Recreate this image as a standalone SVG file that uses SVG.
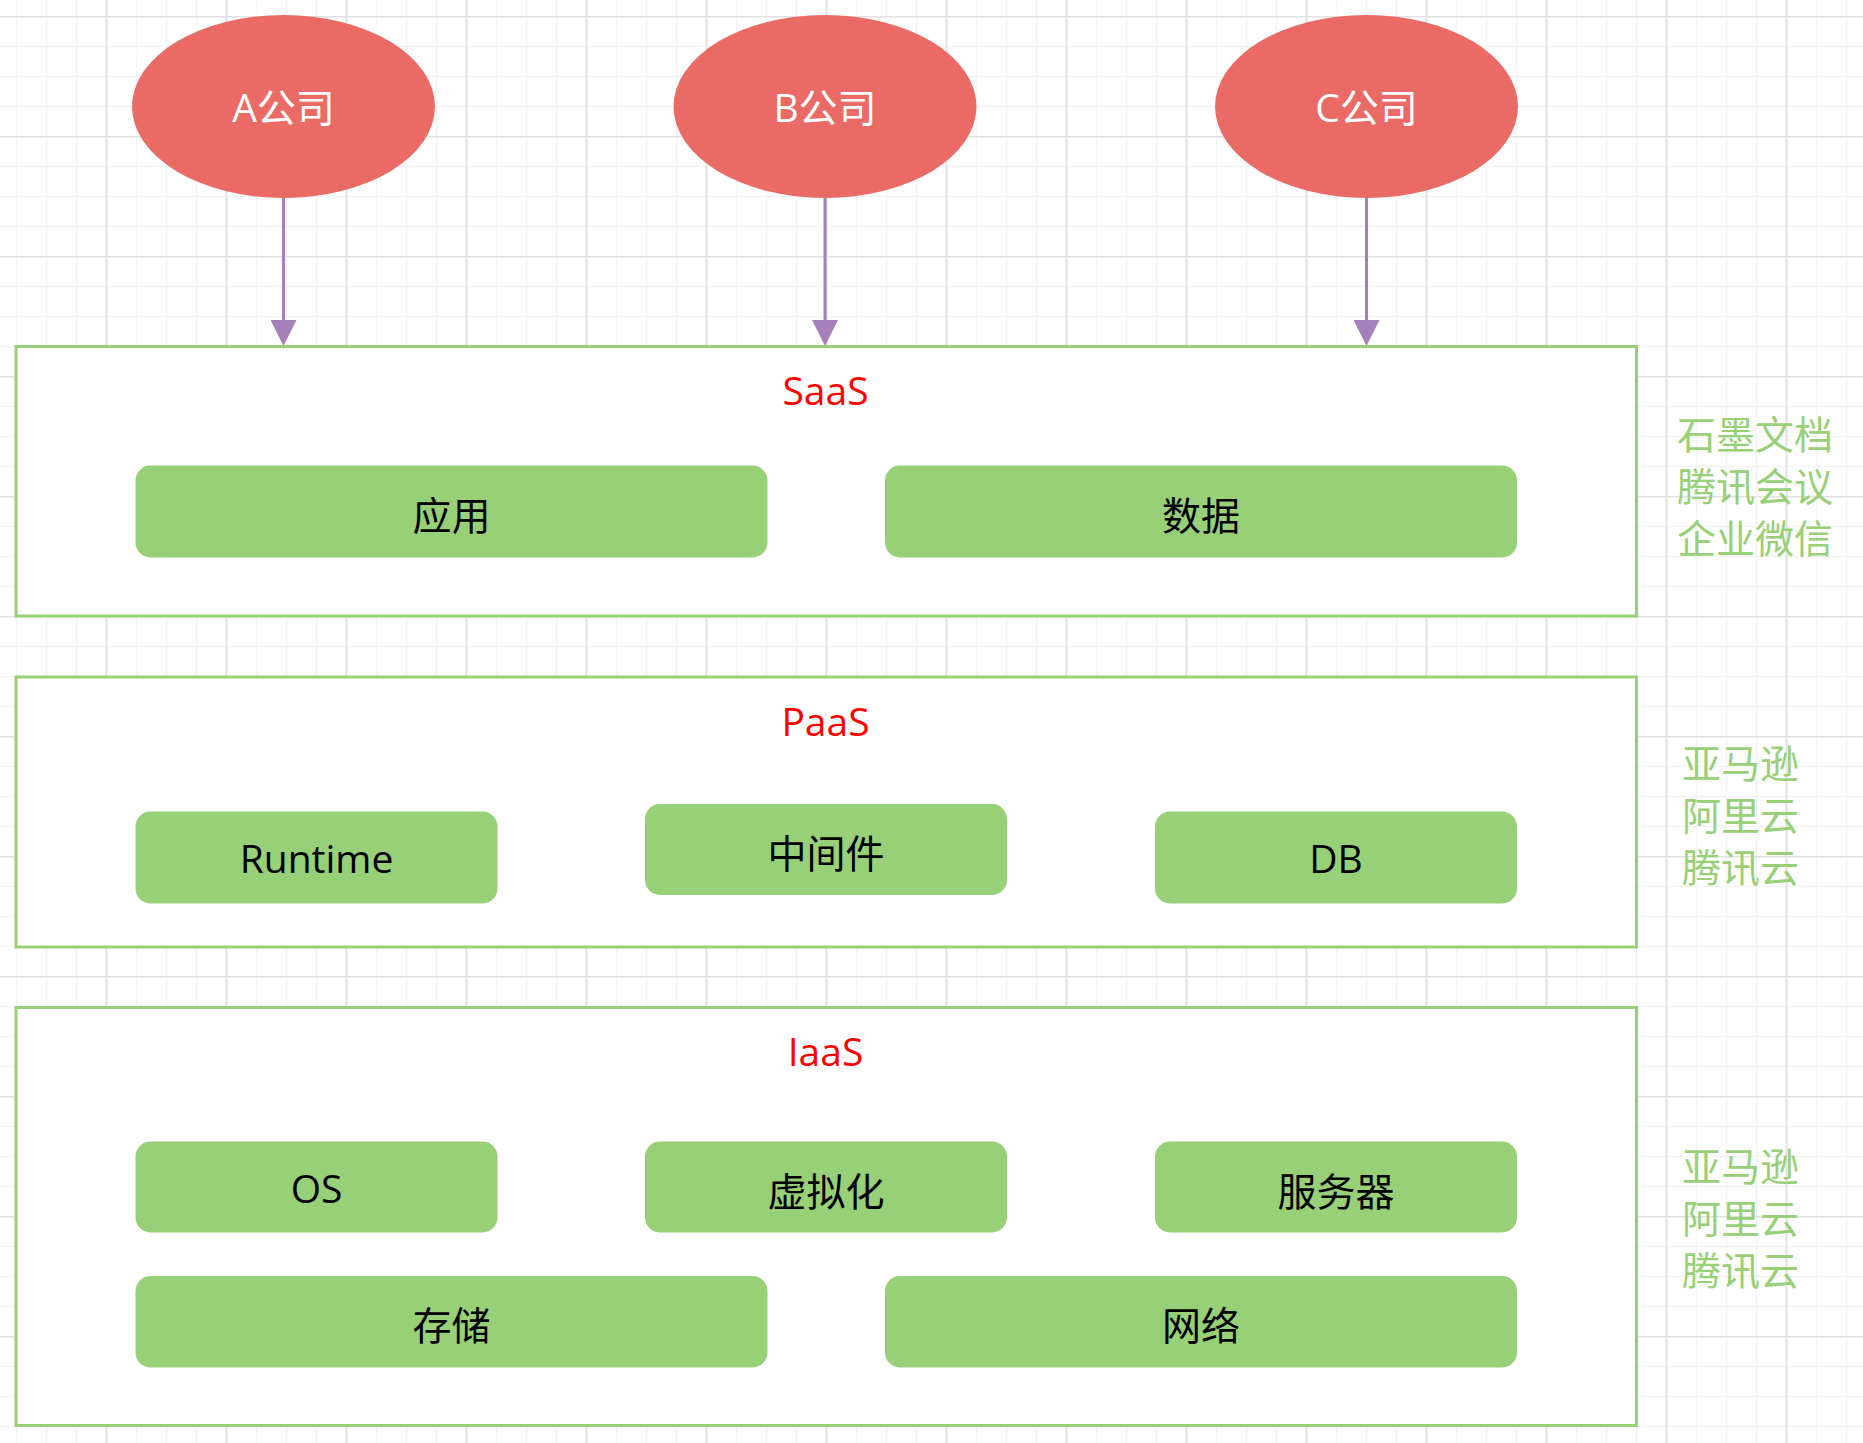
<svg xmlns="http://www.w3.org/2000/svg" width="1863" height="1443" viewBox="0 0 1863 1443">
<defs>
<pattern id="grid" x="16" y="16" width="120" height="120" patternUnits="userSpaceOnUse">
<path d="M0.5,0 V120 M30.5,0 V120 M60.5,0 V120 M0,30.5 H120 M0,60.5 H120 M0,90.5 H120" stroke="#f3f3f3" stroke-width="1.5" fill="none"/>
<path d="M90.5,0 V120 M0,0.5 H120" stroke="#e2e2e2" stroke-width="2" fill="none"/>
</pattern>
<marker id="arrow" markerUnits="userSpaceOnUse" markerWidth="26" markerHeight="26" viewBox="0 0 26 26" refX="0" refY="13" orient="auto">
<path d="M0,0 L26,13 L0,26 Z" fill="#A680B8"/>
</marker>
<style>
text{font-family:"Open Sans","Noto Sans CJK SC",sans-serif;font-size:39px}
.company ellipse{fill:#EA6B66}
.company text{fill:#ffffff;text-anchor:middle}
.layer rect.frame{fill:#ffffff;stroke:#97D077;stroke-width:3}
.layer text.title{fill:#FF0000;text-anchor:middle}
.item rect{fill:#97D077}
.item text{fill:#000000;text-anchor:middle}
.side text{fill:#97D077}
.conn line{stroke:#A680B8;stroke-width:3}
</style>
</defs>
<rect x="0" y="0" width="1863" height="1443" fill="#ffffff"/>
<rect x="0" y="0" width="1863" height="1443" fill="url(#grid)"/>

<g id="layer-saas" class="layer">
<rect class="frame" x="16" y="346.5" width="1620.5" height="269.5"/>
<text class="title" x="825.5" y="405">SaaS</text>
</g>
<g id="layer-paas" class="layer">
<rect class="frame" x="16" y="677" width="1620.5" height="270"/>
<text class="title" x="825.5" y="735.5">PaaS</text>
</g>
<g id="layer-iaas" class="layer">
<rect class="frame" x="16" y="1007.5" width="1620.5" height="418"/>
<text class="title" x="825.5" y="1066">IaaS</text>
</g>

<g id="item-app" class="item"><rect x="135.5" y="465.5" width="632" height="92" rx="15"/><text x="451.5" y="529.5">应用</text></g>
<g id="item-data" class="item"><rect x="885" y="465.5" width="632" height="92" rx="15"/><text x="1201" y="529.5">数据</text></g>

<g id="item-runtime" class="item"><rect x="135.5" y="811.5" width="362" height="92" rx="15"/><text x="316.5" y="873">Runtime</text></g>
<g id="item-middleware" class="item"><rect x="645" y="804" width="362" height="91" rx="15"/><text x="826" y="867.5">中间件</text></g>
<g id="item-db" class="item"><rect x="1155" y="811.5" width="362" height="92" rx="15"/><text x="1336" y="873">DB</text></g>

<g id="item-os" class="item"><rect x="135.5" y="1141.5" width="362" height="91" rx="15"/><text x="316.5" y="1203">OS</text></g>
<g id="item-virt" class="item"><rect x="645" y="1141.5" width="362" height="91" rx="15"/><text x="826" y="1205.5">虚拟化</text></g>
<g id="item-server" class="item"><rect x="1155" y="1141.5" width="362" height="91" rx="15"/><text x="1336" y="1205.5">服务器</text></g>
<g id="item-storage" class="item"><rect x="135.5" y="1276" width="632" height="91.5" rx="15"/><text x="451.5" y="1340">存储</text></g>
<g id="item-network" class="item"><rect x="885" y="1276" width="632" height="91.5" rx="15"/><text x="1201" y="1340">网络</text></g>

<g id="side-saas" class="side">
<text x="1677" y="449">石墨文档</text>
<text x="1677" y="501">腾讯会议</text>
<text x="1677" y="553">企业微信</text>
</g>
<g id="side-paas" class="side">
<text x="1682" y="778">亚马逊</text>
<text x="1682" y="830">阿里云</text>
<text x="1682" y="882">腾讯云</text>
</g>
<g id="side-iaas" class="side">
<text x="1682" y="1181">亚马逊</text>
<text x="1682" y="1233">阿里云</text>
<text x="1682" y="1285">腾讯云</text>
</g>

<g id="connectors" class="conn">
<line x1="283.5" y1="198" x2="283.5" y2="320" marker-end="url(#arrow)"/>
<line x1="825" y1="198" x2="825" y2="320" marker-end="url(#arrow)"/>
<line x1="1366.5" y1="198" x2="1366.5" y2="320" marker-end="url(#arrow)"/>
</g>

<g id="company-a" class="company"><ellipse cx="283.5" cy="106.5" rx="151.5" ry="91.5"/><text x="283.5" y="122">A公司</text></g>
<g id="company-b" class="company"><ellipse cx="825" cy="106.5" rx="151.5" ry="91.5"/><text x="825" y="122">B公司</text></g>
<g id="company-c" class="company"><ellipse cx="1366.5" cy="106.5" rx="151.5" ry="91.5"/><text x="1366.5" y="122">C公司</text></g>
</svg>
